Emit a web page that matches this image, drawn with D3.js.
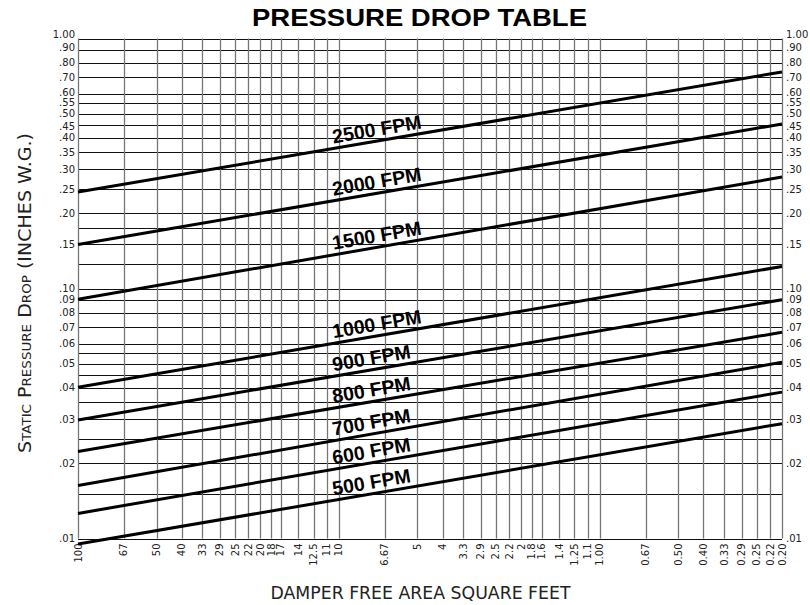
<!DOCTYPE html>
<html>
<head>
<meta charset="utf-8">
<script src="https://cdn.jsdelivr.net/npm/d3@7"></script>
<style>
  html, body { margin: 0; padding: 0; background: #fff; }
  svg { display: block; }
  .tick-label { font-family: "DejaVu Sans", sans-serif; font-size: 10px; fill: #222; }
  .axis-title { font-family: "DejaVu Sans", sans-serif; fill: #222; }
  .line-label { font-family: "Liberation Sans", Arial, sans-serif; font-weight: bold; font-size: 19.5px; fill: #000; }
</style>
</head>
<body>
<div id="chart"></div>
<script>
/* Pressure drop table: log-log chart, free area (reversed) vs static pressure drop. */
(() => {
  'use strict';

  // x grid positions (square feet) and their printed labels
  const areaTicks = [100, 66.67, 50, 40, 33.33, 28.57, 25, 22.22, 20, 18.18, 16.67, 14.29, 12.5, 11.11, 10,
    6.667, 5, 4, 3.333, 2.857, 2.5, 2.222, 2, 1.818, 1.667, 1.429, 1.25, 1.111, 1,
    0.6667, 0.5, 0.4, 0.3333, 0.2857, 0.25, 0.2222, 0.2];
  const areaLabels = ['100', '67', '50', '40', '33', '29', '25', '22', '20', '18', '17', '14', '12.5', '11', '10',
    '6.67', '5', '4', '3.3', '2.9', '2.5', '2.2', '2', '1.8', '1.6', '1.4', '1.25', '1.1', '1.00',
    '0.67', '0.50', '0.40', '0.33', '0.29', '0.25', '0.22', '0.20'];

  // horizontal grid lines (inches w.g.)
  const dropGrid = [1, 0.9, 0.8, 0.7, 0.6, 0.55, 0.5, 0.45, 0.4, 0.35, 0.3, 0.25, 0.2, 0.175, 0.15, 0.125,
    0.1, 0.09, 0.08, 0.07, 0.06, 0.055, 0.05, 0.045, 0.04, 0.035, 0.03, 0.025, 0.02, 0.015, 0.01];
  const dropTicks = [1, 0.9, 0.8, 0.7, 0.6, 0.55, 0.5, 0.45, 0.4, 0.35, 0.3, 0.25, 0.2, 0.15,
    0.1, 0.09, 0.08, 0.07, 0.06, 0.05, 0.04, 0.03, 0.02, 0.01];
  const dropTickLabels = ['1.00', '.90', '.80', '.70', '.60', '.55', '.50', '.45', '.40', '.35', '.30', '.25', '.20', '.15',
    '.10', '.09', '.08', '.07', '.06', '.05', '.04', '.03', '.02', '.01'];

  // one straight line per velocity, read at both ends of the chart
  const velocities = ['2500 FPM', '2000 FPM', '1500 FPM', '1000 FPM', '900 FPM', '800 FPM', '700 FPM', '600 FPM', '500 FPM'];
  const areaStart = 100;
  const areaEnd = 0.2;
  const dropAtStart = [0.243, 0.150, 0.0906, 0.0403, 0.0298, 0.0223, 0.0163, 0.0126, 0.0095];
  const dropAtEnd = [0.735, 0.455, 0.279, 0.1225, 0.0902, 0.0668, 0.0507, 0.0385, 0.0288];

  const width = 810;
  const height = 605;
  const plot = { left: 78, right: 782, top: 38.5, bottom: 538.5 };

  const x = d3.scaleLog().domain([100, 0.2]).range([plot.left, plot.right]);
  const y = d3.scaleLog().domain([0.01, 1]).range([plot.bottom, plot.top]);

  const svg = d3.select('#chart').append('svg')
    .attr('width', width)
    .attr('height', height);

  // title
  svg.append('text')
    .attr('x', 419.5).attr('y', 25.5)
    .attr('text-anchor', 'middle')
    .attr('textLength', 335).attr('lengthAdjust', 'spacingAndGlyphs')
    .style('font-family', '"Liberation Sans", Arial, sans-serif')
    .style('font-weight', 'bold').style('font-size', '24px')
    .text('PRESSURE DROP TABLE');

  // grid
  const grid = svg.append('g');
  grid.selectAll('line.h').data(dropGrid).enter().append('line')
    .attr('x1', plot.left).attr('x2', plot.right)
    .attr('y1', d => Math.round(y(d)) + 0.5).attr('y2', d => Math.round(y(d)) + 0.5)
    .attr('stroke', '#111').attr('stroke-width', 1);
  grid.selectAll('line.v').data(areaTicks).enter().append('line')
    .attr('x1', d => Math.round(x(d)) + 0.5).attr('x2', d => Math.round(x(d)) + 0.5)
    .attr('y1', plot.top).attr('y2', plot.bottom)
    .attr('stroke', '#777').attr('stroke-width', 1.3);

  // y tick labels, both sides (a few nudged apart where they crowd)
  const nudges = { 1: -4, 0.9: -2, 0.6: -1.5, 0.55: -0.5, 0.45: 1 };
  const yNudge = v => nudges[v] || 0;
  const yl = svg.append('g');
  yl.selectAll('text.l').data(dropTicks).enter().append('text')
    .attr('class', 'tick-label')
    .attr('x', 75).attr('y', d => y(d) + yNudge(d))
    .attr('text-anchor', 'end').attr('dominant-baseline', 'central')
    .text((d, i) => dropTickLabels[i]);
  yl.selectAll('text.r').data(dropTicks).enter().append('text')
    .attr('class', 'tick-label')
    .attr('x', 786).attr('y', d => y(d) + yNudge(d))
    .attr('text-anchor', 'start').attr('dominant-baseline', 'central')
    .text((d, i) => dropTickLabels[i]);

  // x tick labels, rotated
  svg.append('g').selectAll('text').data(areaTicks).enter().append('text')
    .attr('class', 'tick-label')
    .attr('transform', d => `translate(${x(d)},${plot.bottom + 5}) rotate(-90)`)
    .attr('text-anchor', 'end').attr('dominant-baseline', 'central')
    .text((d, i) => areaLabels[i]);

  // axis titles
  svg.append('text')
    .attr('class', 'axis-title')
    .attr('x', 420.5).attr('y', 599)
    .attr('text-anchor', 'middle')
    .attr('textLength', 300).attr('lengthAdjust', 'spacingAndGlyphs')
    .style('font-size', '17px')
    .text('DAMPER FREE AREA SQUARE FEET');

  svg.append('text')
    .attr('class', 'axis-title')
    .attr('transform', 'translate(31,293) rotate(-90)')
    .attr('text-anchor', 'middle')
    .attr('textLength', 320).attr('lengthAdjust', 'spacingAndGlyphs')
    .style('font-size', '17px').style('font-variant', 'small-caps')
    .text('Static Pressure Drop (INCHES W.G.)');

  // velocity lines
  const rows = velocities.map((name, i) => ({
    name,
    pts: [[areaStart, dropAtStart[i]], [areaEnd, dropAtEnd[i]]],
  }));

  const line = d3.line().x(d => x(d[0])).y(d => y(d[1]));
  svg.append('g').selectAll('path').data(rows).enter().append('path')
    .attr('d', d => line(d.pts))
    .attr('fill', 'none').attr('stroke', '#000').attr('stroke-width', 3);

  // labels sitting on each line
  const labelArea = 10.4;
  svg.append('g').selectAll('text').data(rows).enter().append('text')
    .attr('class', 'line-label')
    .attr('transform', d => {
      const x0 = x(d.pts[0][0]), y0 = y(d.pts[0][1]);
      const x1 = x(d.pts[1][0]), y1 = y(d.pts[1][1]);
      const lx = x(labelArea);
      const ly = y0 + (y1 - y0) * (lx - x0) / (x1 - x0);
      const ang = Math.atan2(y1 - y0, x1 - x0) * 180 / Math.PI;
      return `translate(${lx},${ly}) rotate(${ang}) translate(0,-5)`;
    })
    .text(d => d.name);
})();
</script>
</body>
</html>
